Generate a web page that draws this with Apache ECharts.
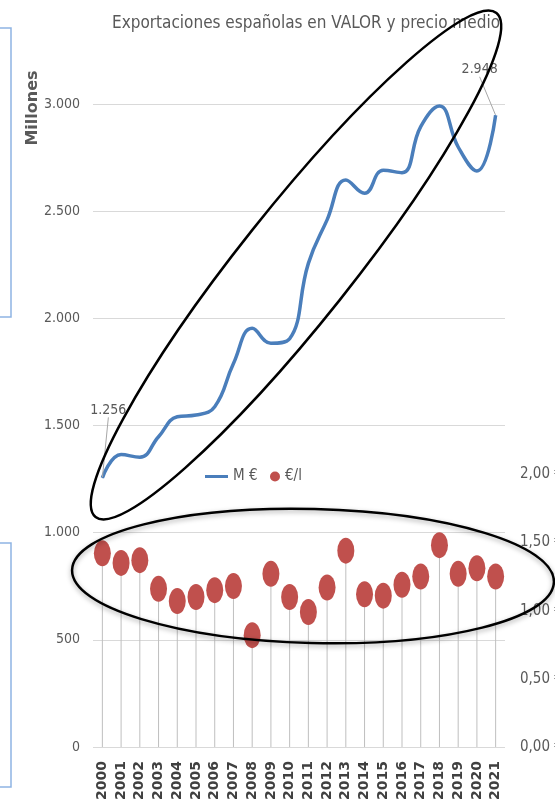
<!DOCTYPE html>
<html>
<head>
<meta charset="utf-8">
<script src="https://cdn.jsdelivr.net/npm/echarts@6.0.0/dist/echarts.min.js"></script>
<style>
  html, body { margin: 0; padding: 0; background: #fff; }
  #main { width: 555px; height: 807px; }
</style>
</head>
<body>
<div id="main"></div>
<script>
// datos
var years = ['2000', '2001', '2002', '2003', '2004', '2005', '2006', '2007', '2008', '2009', '2010',
  '2011', '2012', '2013', '2014', '2015', '2016', '2017', '2018', '2019', '2020', '2021'];
// M € (eje izquierdo, millones)
var valor = [1256, 1365, 1352, 1448, 1541, 1549, 1588, 1790, 1954, 1884, 1905,
  2257, 2460, 2646, 2584, 2692, 2680, 2895, 2991, 2800, 2688, 2948];
// €/l (eje derecho)
var precio = [1.42, 1.35, 1.37, 1.16, 1.07, 1.10, 1.15, 1.18, 0.82, 1.27, 1.10,
  0.99, 1.17, 1.44, 1.12, 1.11, 1.19, 1.25, 1.48, 1.27, 1.31, 1.25];
var leftTicks = [0, 500, 1000, 1500, 2000, 2500, 3000];
var rightTicks = [0, 0.5, 1, 1.5, 2];

var grey = '#595959';
var narrow = "'Liberation Sans Narrow', 'DejaVu Sans Condensed', sans-serif";

function miles(v) { //separador de miles con punto
  return String(v).replace(/\B(?=(\d{3})+(?!\d))/g, '.');
}

var chart = echarts.init(document.getElementById('main'), null, { renderer: 'canvas' });

var lineData = valor.map(function (v, i) {
  if (i === 0 || i === valor.length - 1) {
    return {
      value: v,
      label: {
        show: true,
        position: 'top',
        formatter: function (p) { return miles(p.value); },
        color: grey,
        fontSize: 14,
        fontFamily: narrow
      },
      labelLine: { show: true, lineStyle: { color: '#a6a6a6', width: 1 } }
    };
  }
  return v;
});

var option = {
  animation: false,
  title: {
    text: 'Exportaciones españolas en VALOR y precio medio',
    left: 107,
    top: 10,
    textStyle: { color: grey, fontSize: 17, fontWeight: 'normal', fontFamily: narrow }
  },
  legend: [{
    data: [{ name: 'M €', icon: 'rect' }],
    left: 200,
    top: 464,
    itemWidth: 23,
    itemHeight: 3,
    itemGap: 4,
    textStyle: { color: grey, fontSize: 15, fontFamily: narrow }
  }, {
    data: [{ name: '€/l', icon: 'circle' }],
    left: 265,
    top: 464,
    itemWidth: 10,
    itemHeight: 12,
    textStyle: { color: grey, fontSize: 15, fontFamily: narrow }
  }],
  grid: { left: 93, right: 50, top: -3, bottom: 60, containLabel: false, outerBoundsMode: 'none' },
  xAxis: {
    type: 'category',
    data: years,
    boundaryGap: true,
    axisLine: { show: false },
    axisTick: { show: false },
    axisLabel: {
      interval: 0,
      rotate: 90,
      margin: 14,
      color: '#404040',
      fontSize: 14,
      fontWeight: 'bold',
      fontFamily: "'DejaVu Sans', sans-serif"
    }
  },
  yAxis: [{
    type: 'value',
    min: 0,
    max: 3500,
    interval: 500,
    axisLine: { show: false },
    axisTick: { show: false },
    axisLabel: {
      margin: 13,
      color: grey,
      fontSize: 14,
      fontFamily: narrow,
      formatter: function (v) { return leftTicks.indexOf(v) >= 0 ? miles(v) : ''; }
    },
    splitLine: { lineStyle: { color: '#d9d9d9', width: 1 } }
  }, {
    type: 'value',
    min: 0,
    max: 5.5,
    interval: 0.5,
    position: 'right',
    axisLine: { show: false },
    axisTick: { show: false },
    splitLine: { show: false },
    axisLabel: {
      margin: 15,
      color: grey,
      fontSize: 15,
      fontFamily: narrow,
      formatter: function (v) {
        return rightTicks.indexOf(v) >= 0 ? v.toFixed(2).replace('.', ',') + ' €' : '';
      }
    }
  }],
  series: [{
    name: 'M €',
    type: 'line',
    yAxisIndex: 0,
    data: lineData,
    smooth: 0.45,
    symbol: 'circle',
    symbolSize: 1,
    showSymbol: true,
    showAllSymbol: true,
    itemStyle: { color: '#4a7ebb' },
    lineStyle: { color: '#4a7ebb', width: 3.5 },
    labelLayout: function (p) {
      if (p.dataIndex === 0) return { dx: 6, dy: -55 };
      if (p.dataIndex === valor.length - 1) return { dx: -16, dy: -33 };
      return {};
    },
    z: 3
  }, {
    name: 'drop',
    type: 'bar',
    yAxisIndex: 1,
    data: precio,
    barWidth: 1,
    itemStyle: { color: '#bfbfbf' },
    silent: true,
    z: 1
  }, {
    name: '€/l',
    type: 'scatter',
    yAxisIndex: 1,
    data: precio,
    symbol: 'circle',
    symbolSize: [17, 26],
    itemStyle: { color: '#c0504d', opacity: 1 },
    z: 4
  }],
  graphic: [{
    type: 'ellipse',
    x: 296, y: 265,
    rotation: 51.5 * Math.PI / 180,
    shape: { cx: 0, cy: 0, rx: 322, ry: 56 },
    style: { fill: null, stroke: '#000', lineWidth: 2.5 },
    z: 100
  }, {
    type: 'ellipse',
    x: 313, y: 576,
    rotation: -0.025,
    shape: { cx: 0, cy: 0, rx: 241, ry: 67 },
    style: {
      fill: null, stroke: '#000', lineWidth: 2.5,
      shadowBlur: 5, shadowColor: 'rgba(0,0,0,0.35)', shadowOffsetY: 2
    },
    z: 100
  }, {
    type: 'text',
    x: 33, y: 108,
    rotation: Math.PI / 2,
    style: {
      text: 'Millones',
      fill: grey,
      font: "bold 16px 'DejaVu Sans', sans-serif",
      align: 'center',
      verticalAlign: 'middle'
    }
  }, {
    type: 'polyline',
    shape: { points: [[0, 28], [11, 28], [11, 317], [0, 317]] },
    style: { stroke: '#8eb4e3', lineWidth: 1.5, fill: null }
  }, {
    type: 'polyline',
    shape: { points: [[0, 543], [11, 543], [11, 787], [0, 787]] },
    style: { stroke: '#8eb4e3', lineWidth: 1.5, fill: null }
  }]
};

chart.setOption(option);
</script>
</body>
</html>
